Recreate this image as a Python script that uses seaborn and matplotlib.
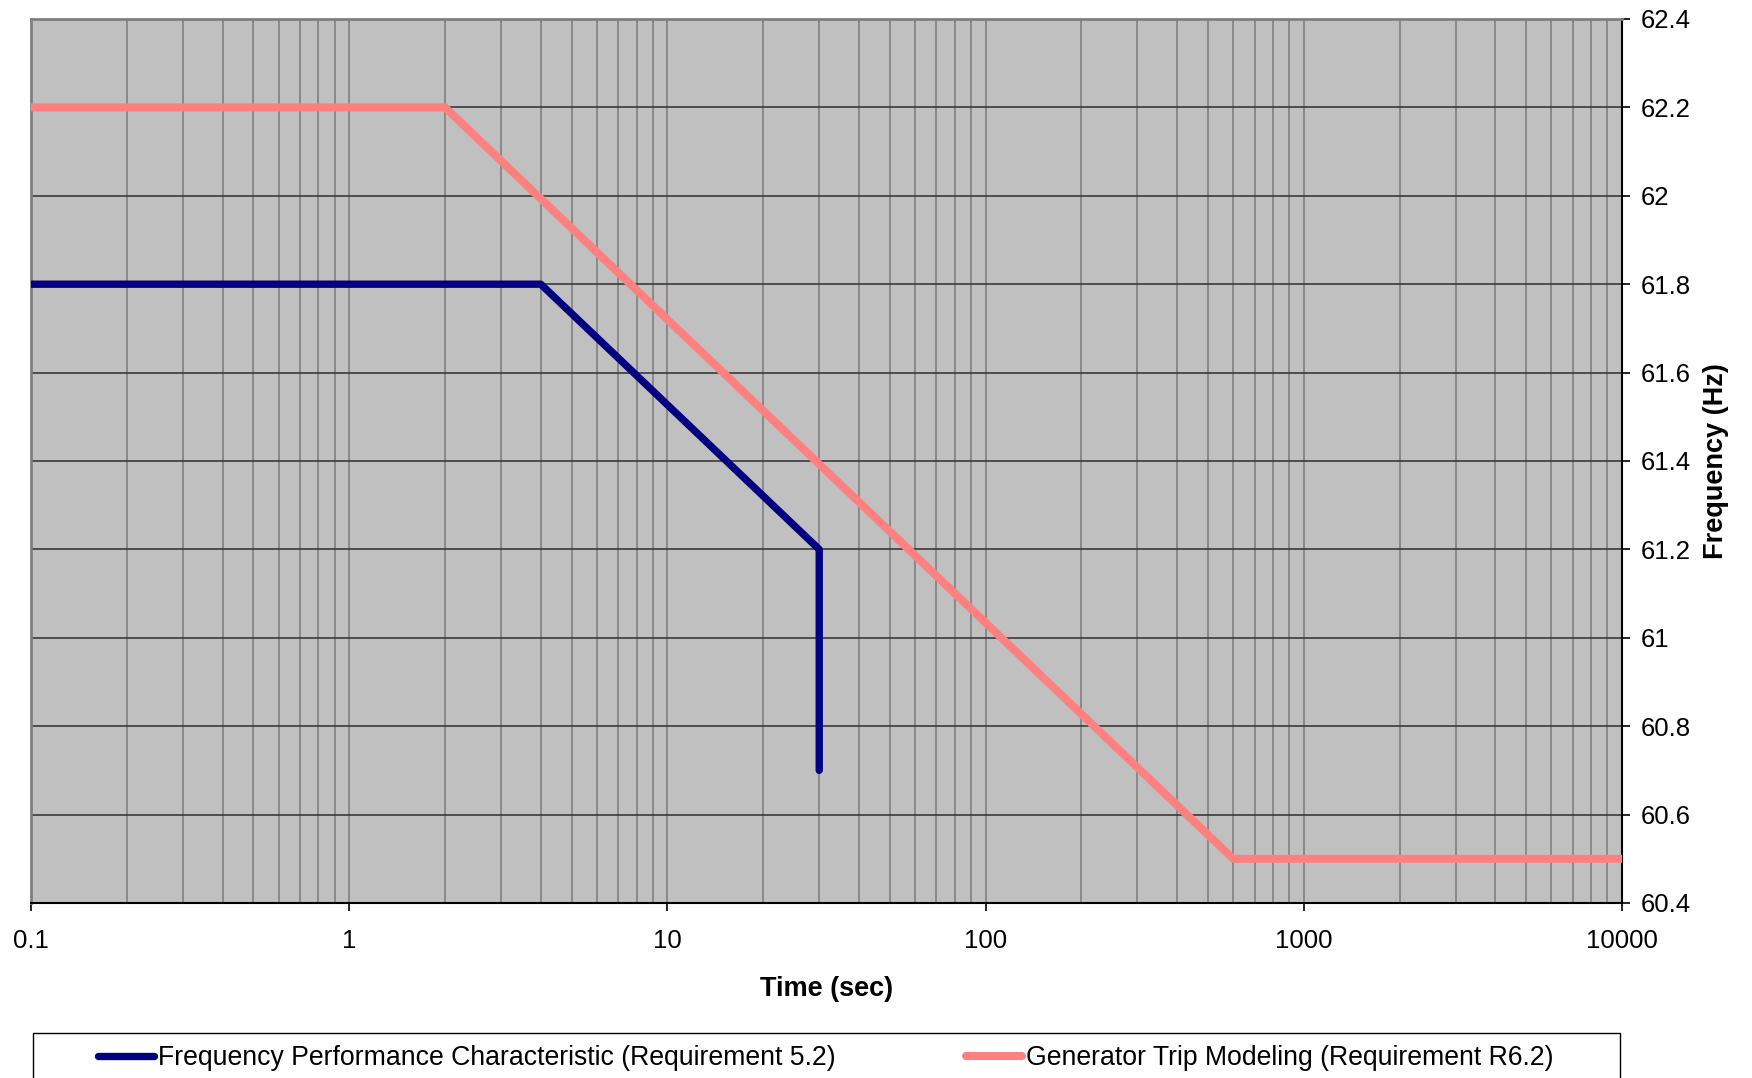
import matplotlib
matplotlib.use("Agg")
import matplotlib.pyplot as plt
import matplotlib.ticker as mticker
from matplotlib.patches import Rectangle
import seaborn as sns
import pandas as pd

# data
fpc_time = [0.1, 4, 30, 30]
fpc_freq = [61.8, 61.8, 61.2, 60.7]
gen_time = [0.1, 2, 600, 10000]
gen_freq = [62.2, 62.2, 60.5, 60.5]
fpc_label = "Frequency Performance Characteristic (Requirement 5.2)"
gen_label = "Generator Trip Modeling (Requirement R6.2)"
y_ticks = [60.4, 60.6, 60.8, 61, 61.2, 61.4, 61.6, 61.8, 62, 62.2, 62.4]
y_ticklabels = ["60.4", "60.6", "60.8", "61", "61.2", "61.4", "61.6", "61.8", "62", "62.2", "62.4"]
x_ticks = [0.1, 1, 10, 100, 1000, 10000]
x_ticklabels = ["0.1", "1", "10", "100", "1000", "10000"]

sns.set_style("white")
plt.rcParams["font.family"] = ["Liberation Sans", "DejaVu Sans"]
plt.rcParams["text.color"] = "black"
plt.rcParams["axes.labelcolor"] = "black"
plt.rcParams["xtick.color"] = "black"
plt.rcParams["ytick.color"] = "black"

W, H = 1752, 1078
fig = plt.figure(figsize=(W / 100, H / 100), dpi=100)
ax = fig.add_axes([31 / W, 1 - 903 / H, (1622 - 31) / W, (903 - 19) / H])
ax.set_facecolor("#C0C0C0")

df_fpc = pd.DataFrame({"t": fpc_time, "f": fpc_freq})
df_gen = pd.DataFrame({"t": gen_time, "f": gen_freq})

sns.lineplot(data=df_fpc, x="t", y="f", sort=False, estimator=None, ax=ax,
             color="#000080", lw=5.3, solid_capstyle="round", label=fpc_label, zorder=5)
sns.lineplot(data=df_gen, x="t", y="f", sort=False, estimator=None, ax=ax,
             color="#FF8080", lw=5.8, solid_capstyle="butt", label=gen_label, zorder=4)

ax.set_xscale("log")
ax.set_xlim(0.1, 10000)
ax.set_ylim(60.4, 62.4)
ax.set_xticks(x_ticks)
ax.set_xticklabels(x_ticklabels)
ax.xaxis.set_minor_locator(mticker.LogLocator(base=10, subs=range(2, 10), numticks=20))
ax.xaxis.set_minor_formatter(mticker.NullFormatter())
ax.set_yticks(y_ticks)
ax.set_yticklabels(y_ticklabels)
ax.yaxis.tick_right()
ax.yaxis.set_label_position("right")

ax.grid(which="major", axis="x", color="#808080", lw=1.2)
ax.grid(which="minor", axis="x", color="#808080", lw=1.2)
ax.grid(which="major", axis="y", color="#3a3a3a", lw=1.2)
ax.set_axisbelow(True)

ax.tick_params(axis="x", which="major", direction="out", length=5.5, width=1.2, color="black",
               labelsize=18.5, pad=13, bottom=True, labelcolor="black")
ax.tick_params(axis="x", which="minor", length=0)
ax.tick_params(axis="y", direction="out", length=5.5, width=1.2, color="black",
               labelsize=18.5, pad=8, right=True, left=False, labelcolor="black")

for side in ["top", "left"]:
    ax.spines[side].set_color("#808080")
    ax.spines[side].set_linewidth(2)
for side in ["bottom", "right"]:
    ax.spines[side].set_color("black")
    ax.spines[side].set_linewidth(1.5)

ax.set_xlabel("Time (sec)", fontsize=19.5, fontweight="bold", labelpad=17, color="black")
ax.set_ylabel("Frequency (Hz)", fontsize=19.5, fontweight="bold", labelpad=9, color="black")

handles, labels = ax.get_legend_handles_labels()
ax.get_legend().remove()

# legend frame
fig.patches.append(Rectangle((33 / W, -0.01), (1620 - 33) / W, 1 - 1033 / H + 0.01,
                             transform=fig.transFigure, facecolor="white",
                             edgecolor="black", lw=1.0))
leg_y = 1 - 1058 / H
for h, lab, x0 in [(handles[0], labels[0], 98), (handles[1], labels[1], 966)]:
    lg = fig.legend([h], [lab], loc="center left", bbox_to_anchor=(x0 / W, leg_y),
                    fontsize=19.2, frameon=False, handlelength=2.1,
                    handletextpad=0.15, borderpad=0, borderaxespad=0, labelcolor="black")
    for line in lg.get_lines():
        line.set_solid_capstyle("round")

fig.savefig("out.png", dpi=100)
